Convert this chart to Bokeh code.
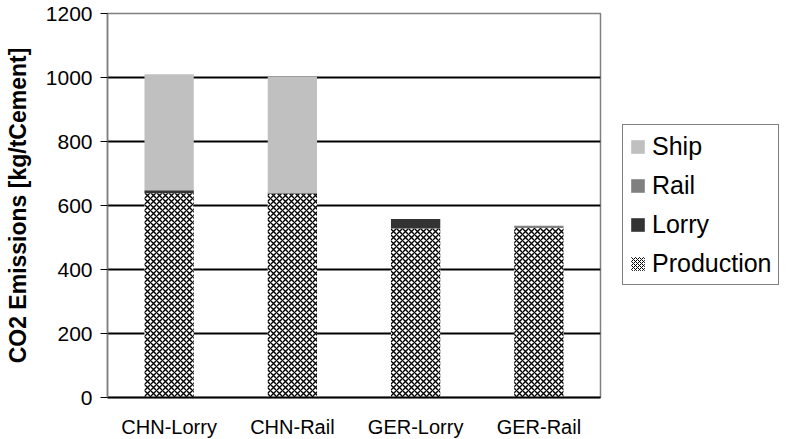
from bokeh.plotting import figure
from bokeh.layouts import row
from bokeh.models import (FactorRange, Range1d, FixedTicker, Legend, LegendItem,
                          ColumnDataSource)
from bokeh.embed import file_html
from bokeh.resources import INLINE

categories = ["CHN-Lorry", "CHN-Rail", "GER-Lorry", "GER-Rail"]
production = [638, 636, 528, 530]
lorry = [10, 0, 30, 0]
rail = [0, 5, 0, 7]
ship = [362, 362, 0, 0]
y_ticks = [0, 200, 400, 600, 800, 1000, 1200]
series_names = ["Production", "Lorry", "Rail", "Ship"]
fills = ["white", "#333333", "#808080", "#C0C0C0"]
hatches = ["diagonal_cross", " ", " ", " "]

data = dict(x=categories, Production=production, Lorry=lorry, Rail=rail, Ship=ship)
font = "Liberation Sans"

p = figure(x_range=FactorRange(*categories, range_padding=0),
           y_range=Range1d(0, 1200),
           frame_width=493, frame_height=384,
           output_backend="svg", toolbar_location=None,
           min_border_left=107, min_border_top=13, min_border_right=2,
           min_border_bottom=38)

p.vbar_stack(series_names, x="x", width=0.4, source=data,
             fill_color=fills, line_color=None, hatch_pattern=hatches,
             hatch_color="black", hatch_scale=6, hatch_weight=1.4)

p.background_fill_color = "white"
p.border_fill_color = "white"
p.outline_line_color = "#808080"
p.outline_line_width = 1.5

p.xgrid.grid_line_color = None
p.ygrid.ticker = FixedTicker(ticks=[200, 400, 600, 800, 1000])
p.ygrid.grid_line_color = "black"
p.ygrid.grid_line_width = 2

p.yaxis.ticker = FixedTicker(ticks=y_ticks)
p.yaxis.axis_line_color = "#808080"
p.yaxis.axis_line_width = 1.5
p.yaxis.major_tick_line_color = "black"
p.yaxis.major_tick_out = 7
p.yaxis.major_tick_in = 0
p.yaxis.minor_tick_line_color = None
p.yaxis.major_label_standoff = 8
p.yaxis.major_label_text_font = font
p.yaxis.major_label_text_font_size = "21px"
p.yaxis.major_label_text_color = "black"
p.yaxis.axis_label = "CO2 Emissions [kg/tCement]"
p.yaxis.axis_label_text_font = font
p.yaxis.axis_label_text_font_style = "bold"
p.yaxis.axis_label_text_font_size = "23px"
p.yaxis.axis_label_text_color = "black"
p.yaxis.axis_label_standoff = 12

p.xaxis.axis_line_color = "black"
p.xaxis.axis_line_width = 2
p.xaxis.major_tick_line_color = None
p.xaxis.minor_tick_line_color = None
p.xaxis.major_label_standoff = 12
p.xaxis.major_label_text_font = font
p.xaxis.major_label_text_font_size = "20px"
p.xaxis.major_label_text_color = "black"

# legend panel (separate figure so that the legend is not clipped)
lp = figure(width=187, height=439, x_range=Range1d(0, 1), y_range=Range1d(0, 1),
            output_backend="svg", toolbar_location=None, min_border=0)
lp.axis.visible = False
lp.grid.grid_line_color = None
lp.outline_line_color = None
lp.background_fill_color = "white"
lp.border_fill_color = "white"

# legend-only swatches: one bar of zero height placed outside the visible range
swatch = ColumnDataSource(data=dict(x=[5], top=[0]))
items = []
for name, fc, hp in list(zip(series_names, fills, hatches))[::-1]:
    r = lp.vbar(x="x", top="top", width=0.1, source=swatch, fill_color=fc,
                line_color=None, hatch_pattern=hp, hatch_color="black",
                hatch_scale=4, hatch_weight=1.0)
    items.append(LegendItem(label=name, renderers=[r]))

legend = Legend(items=items, location=(20, 111))
legend.label_text_font = font
legend.label_text_font_size = "25px"
legend.label_text_color = "black"
legend.glyph_width = 17
legend.glyph_height = 17
legend.label_height = 30
legend.spacing = 9
legend.padding = 6
legend.label_standoff = 6
legend.margin = 0
legend.border_line_color = "black"
legend.border_line_width = 1
legend.background_fill_color = "white"
lp.add_layout(legend, "center")

layout = row(p, lp)
open("out.html", "w").write(file_html(layout, INLINE))
